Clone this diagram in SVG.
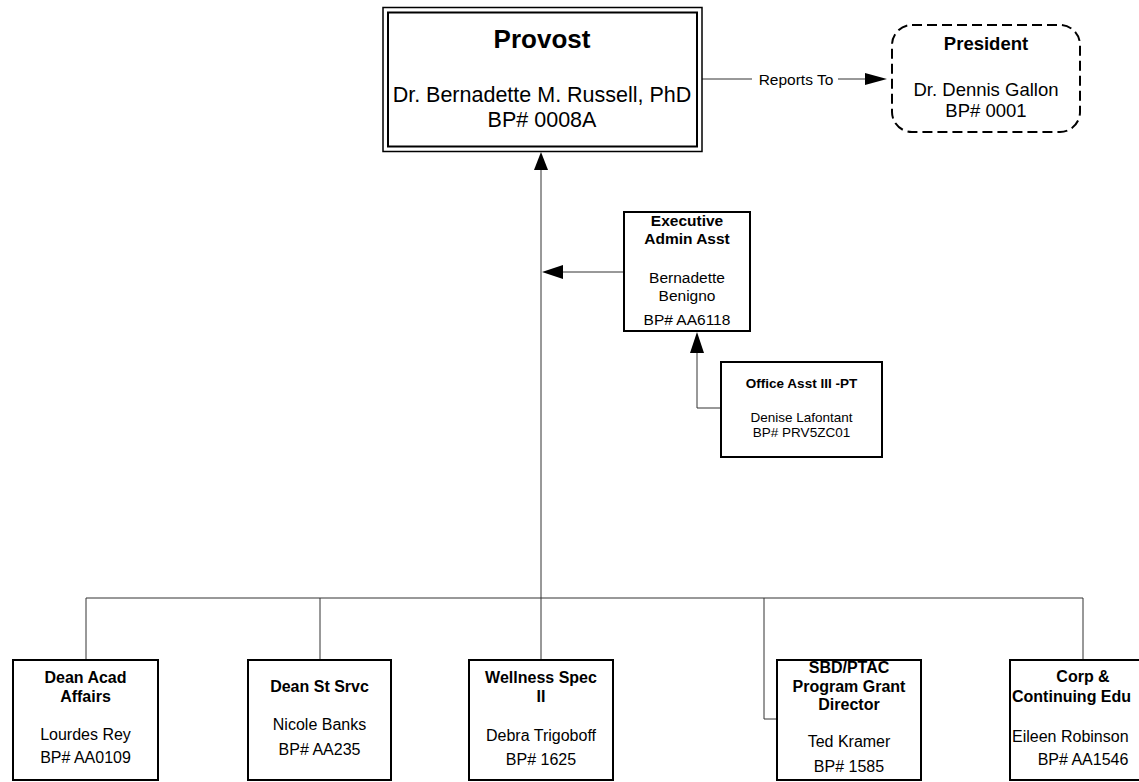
<svg xmlns="http://www.w3.org/2000/svg" width="1139" height="782" viewBox="0 0 1139 782">
<style>
text{font-family:"Liberation Sans",Arial,sans-serif;fill:#000;text-anchor:middle}
.b{font-weight:bold}
.box{fill:#fff;stroke:#000;stroke-width:2}
.ln{fill:none;stroke:#333;stroke-width:1}
.ah{fill:#000;stroke:none}
.s155{font-size:15.5px}
.s16{font-size:16px}
.s13{font-size:13.5px}
</style>
<rect width="1139" height="782" fill="#fff"/>
<g id="connectors">
<polyline class="ln" points="702,79 752,79"/>
<polyline class="ln" points="838,79 866,79"/>
<polygon class="ah" points="865,73 887,79 865,85"/>
<text x="796" y="84.5" class="s155">Reports To</text>
<line class="ln" x1="541" y1="168" x2="541" y2="660"/>
<polygon class="ah" points="541,152 534,170 548,170"/>
<line class="ln" x1="561" y1="272" x2="624" y2="272"/>
<polygon class="ah" points="542,272 563,265 563,279"/>
<polyline class="ln" points="721,408 697,408 697,351"/>
<polygon class="ah" points="697,332 690,353 704,353"/>
<polyline class="ln" points="86,660 86,598 1083,598 1083,660"/>
<line class="ln" x1="320" y1="598" x2="320" y2="660"/>
<polyline class="ln" points="764,598 764,719 777,719"/>
</g>
<g id="provost">
<rect x="383" y="7.5" width="319" height="144" fill="#fff" stroke="#000" stroke-width="1.5"/>
<rect x="388" y="12.5" width="309" height="134" fill="none" stroke="#000" stroke-width="2"/>
<text x="542" y="48" class="b" font-size="26">Provost</text>
<text x="542" y="102" font-size="21.5">Dr. Bernadette M. Russell, PhD</text>
<text x="542" y="127" font-size="21.5">BP# 0008A</text>
</g>
<g id="president">
<rect x="892" y="25" width="188" height="107" rx="20" fill="#fff" stroke="#000" stroke-width="2" stroke-dasharray="10,5"/>
<text x="986" y="50" class="b" font-size="18.5">President</text>
<text x="986" y="96" font-size="18.5">Dr. Dennis Gallon</text>
<text x="986" y="117" font-size="18.5">BP# 0001</text>
</g>
<g id="exec-admin">
<rect class="box" x="624" y="212" width="126" height="119"/>
<text x="687" y="226" class="b s155">Executive</text>
<text x="687" y="244" class="b s155">Admin Asst</text>
<text x="687" y="283" class="s155">Bernadette</text>
<text x="687" y="301" class="s155">Benigno</text>
<text x="687" y="325" class="s155">BP# AA6118</text>
</g>
<g id="office-asst">
<rect class="box" x="721" y="362" width="161" height="95"/>
<text x="801.5" y="388" class="b s13">Office Asst III -PT</text>
<text x="801.5" y="422" class="s13">Denise Lafontant</text>
<text x="801.5" y="437" class="s13">BP# PRV5ZC01</text>
</g>
<g id="dean-acad">
<rect class="box" x="13" y="660" width="145" height="120"/>
<text x="85.5" y="683" class="b s16">Dean Acad</text>
<text x="85.5" y="702" class="b s16">Affairs</text>
<text x="85.5" y="740" class="s16">Lourdes Rey</text>
<text x="85.5" y="763" class="s16">BP# AA0109</text>
</g>
<g id="dean-st">
<rect class="box" x="248" y="660" width="143" height="120"/>
<text x="319.5" y="692" class="b s16">Dean St Srvc</text>
<text x="319.5" y="730" class="s16">Nicole Banks</text>
<text x="319.5" y="755" class="s16">BP# AA235</text>
</g>
<g id="wellness">
<rect class="box" x="469" y="660" width="144" height="120"/>
<text x="541" y="683" class="b s16">Wellness Spec</text>
<text x="541" y="702" class="b s16">II</text>
<text x="541" y="741" class="s16">Debra Trigoboff</text>
<text x="541" y="765" class="s16">BP# 1625</text>
</g>
<g id="sbd-ptac">
<rect class="box" x="777" y="660" width="144" height="120"/>
<text x="849" y="673" class="b s16">SBD/PTAC</text>
<text x="849" y="692" class="b s16">Program Grant</text>
<text x="849" y="710" class="b s16">Director</text>
<text x="849" y="747" class="s16">Ted Kramer</text>
<text x="849" y="772" class="s16">BP# 1585</text>
</g>
<g id="corp-edu">
<rect class="box" x="1010" y="660" width="146" height="120"/>
<text x="1083" y="682" class="b s16">Corp &amp;</text>
<text x="1012" y="702" class="b s16" style="text-anchor:start">Continuing Edu</text>
<text x="1012" y="742" class="s16" style="text-anchor:start">Eileen Robinson</text>
<text x="1083" y="765" class="s16">BP# AA1546</text>
</g>
</svg>
